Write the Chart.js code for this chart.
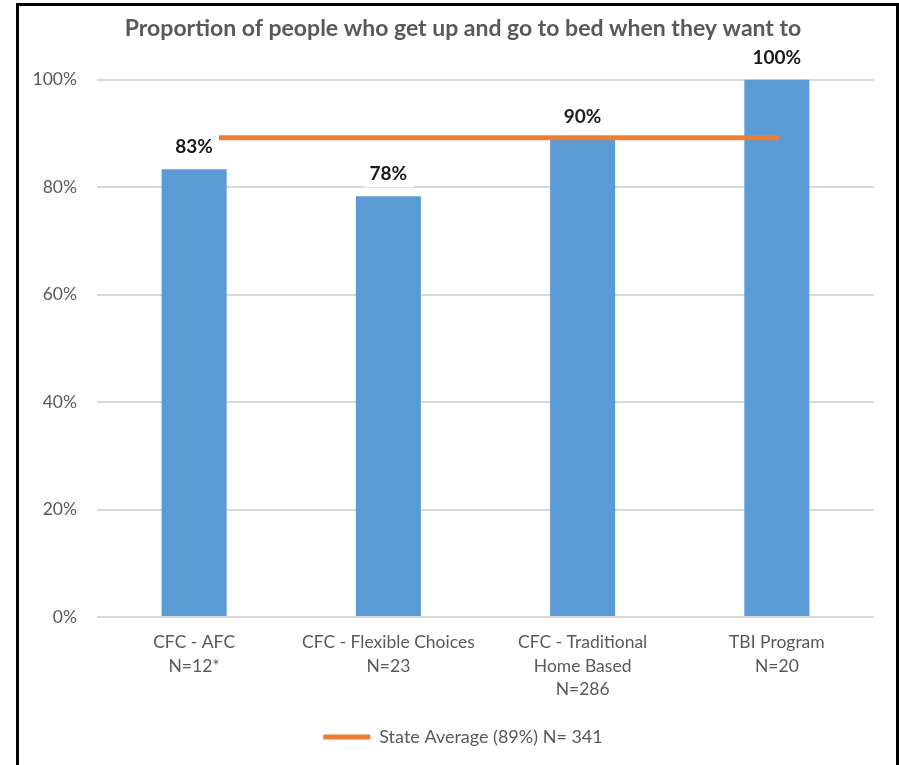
<!DOCTYPE html>
<html lang="en">
  <head>
    <meta charset="UTF-8" />
    <title>Proportion of people who get up and go to bed</title>
    <style>
      body {
        margin: 0;
        background: #fff;
      }
      .frame {
        position: absolute;
        left: 16px;
        top: 3px;
        width: 883px;
        height: 762px;
        border-left: 3px solid #000;
        border-top: 3px solid #000;
        border-right: 3px solid #000;
        box-sizing: border-box;
      }
      .frame-item {
        width: 877px;
        height: 759px;
      }
    </style>
  </head>
  <body>
    <div class="frame">
      <div class="frame-item">
        <canvas id="mychart"></canvas>
      </div>
    </div>

    <script src="https://cdn.jsdelivr.net/npm/chart.js@4/dist/chart.umd.min.js"></script>
    <script>
      // data
      const programs = [
        ["CFC - AFC", "N=12*"],
        ["CFC - Flexible Choices", "N=23"],
        ["CFC - Traditional", "Home Based", "N=286"],
        ["TBI Program", "N=20"],
      ];
      const proportions = [83.3, 78.3, 88.9, 100];
      const valueLabels = ["83%", "78%", "90%", "100%"];
      const stateAverage = [89.2, 89.2, 89.2, 89.2];
      const yTicks = [0, 20, 40, 60, 80, 100];

      const FONT = "Lato, 'Open Sans', sans-serif";

      // value labels on white boxes above bars
      const barLabels = {
        id: "barLabels",
        afterDatasetsDraw(chart) {
          const ctx = chart.ctx;
          const meta = chart.getDatasetMeta(1);
          ctx.save();
          ctx.font = "bold 19px " + FONT;
          ctx.textAlign = "center";
          ctx.textBaseline = "middle";
          meta.data.forEach((bar, i) => {
            const txt = valueLabels[i];
            const w = ctx.measureText(txt).width + 12;
            const cy = bar.y - 22;
            ctx.fillStyle = "#fff";
            ctx.fillRect(bar.x - w / 2, cy - 14, w, 27);
            ctx.fillStyle = "#1a1a1a";
            ctx.fillText(txt, bar.x, cy);
          });
          ctx.restore();
        },
      };

      new Chart(document.getElementById("mychart"), {
        data: {
          labels: programs,
          datasets: [
            {
              type: "line",
              label: "State Average (89%) N= 341",
              data: stateAverage,
              borderColor: "#ED7D31",
              backgroundColor: "#ED7D31",
              borderWidth: 5,
              borderCapStyle: "round",
              pointRadius: 0,
              pointStyle: "line",
            },
            {
              type: "bar",
              label: "Proportion",
              data: proportions,
              backgroundColor: "#5B9BD5",
              barPercentage: 1,
              categoryPercentage: 0.335,
            },
          ],
        },
        options: {
          maintainAspectRatio: false,
          animation: false,
          layout: { padding: { left: 11, right: 0, top: 0, bottom: 9 } },
          scales: {
            x: {
              grid: { display: false, drawTicks: false },
              border: { display: false },
              ticks: {
                color: "#595959",
                font: { family: FONT, size: 17.5, lineHeight: 1.34 },
                padding: 14,
                maxRotation: 0,
                autoSkip: false,
              },
              afterFit: (s) => {
                s.height = 102;
              },
            },
            y: {
              min: 0,
              max: 100,
              afterBuildTicks: (s) => {
                s.ticks = yTicks.map((v) => ({ value: v }));
              },
              grid: { color: "#D9D9D9", lineWidth: 2, drawTicks: false },
              border: { display: false },
              ticks: {
                color: "#595959",
                font: { family: FONT, size: 17.5 },
                padding: 20,
                callback: (v) => v + "%",
              },
              afterFit: (s) => {
                s.width = 67;
              },
            },
            // empty right gutter
            gap: {
              position: "right",
              grid: { display: false },
              border: { display: false },
              ticks: { display: false },
              afterFit: (s) => {
                s.width = 22;
              },
            },
          },
          plugins: {
            title: {
              display: true,
              text: "Proportion of people who get up and go to bed when they want to",
              color: "#595959",
              font: { family: FONT, size: 23, weight: "bold" },
              padding: { top: 9, bottom: 37 },
            },
            legend: {
              position: "bottom",
              labels: {
                filter: (item) => item.datasetIndex === 0,
                usePointStyle: true,
                pointStyleWidth: 47,
                color: "#595959",
                font: { family: FONT, size: 18 },
                padding: 9,
              },
            },
            tooltip: { enabled: false },
          },
        },
        plugins: [barLabels],
      });
    </script>
  </body>
</html>
